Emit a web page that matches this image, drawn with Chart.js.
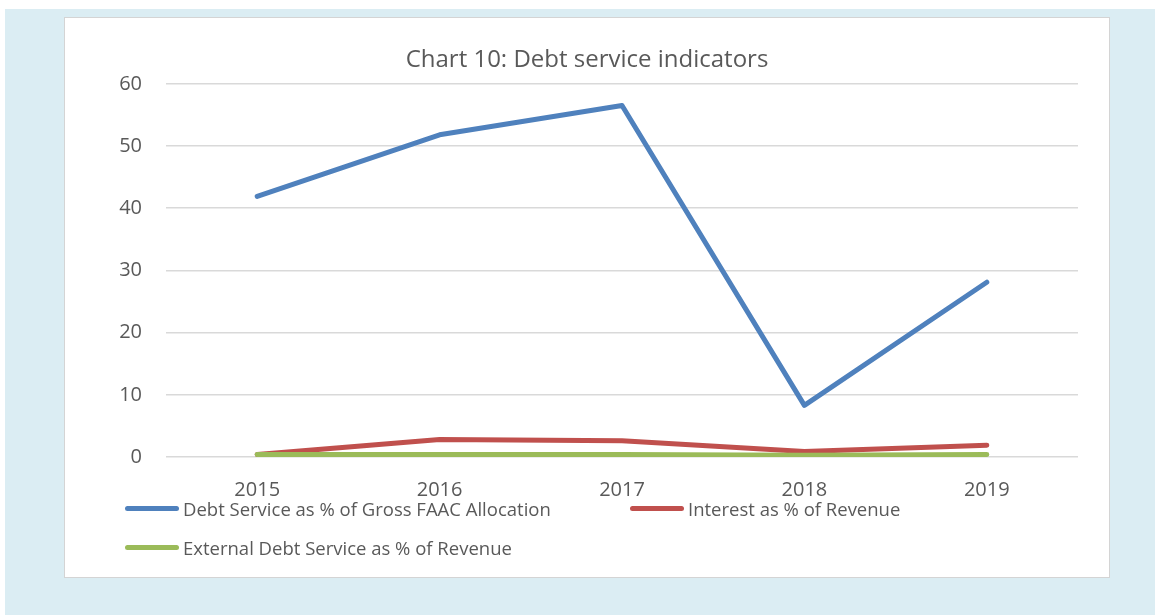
<!DOCTYPE html>
<html><head><meta charset="utf-8">
<script src="https://cdn.jsdelivr.net/npm/chart.js@4.4.1/dist/chart.umd.min.js"></script>
<style>
html,body{margin:0;padding:0;background:#fff;width:1155px;height:615px;overflow:hidden;font-family:"Open Sans","Liberation Sans",sans-serif;}
#bg{position:absolute;left:5px;top:9px;width:1150px;height:606px;background:#dbedf3;}
#panel{position:absolute;left:64px;top:17px;width:1044px;height:559px;background:#fff;border:1px solid #d4d4d4;}
#wrap{position:absolute;left:0;top:0;width:1044px;height:559px;}
#legend{position:absolute;left:0;top:0;width:1044px;height:559px;pointer-events:none;}
.li{position:absolute;display:flex;align-items:center;font-size:18.5px;color:#595959;white-space:nowrap;}
.sw{width:54px;height:5px;border-radius:3px;margin-right:4px;}
</style></head>
<body>
<div id="bg"></div>
<div id="panel"><div id="wrap"><canvas id="c"></canvas></div><div id="legend"></div></div>
<script>
const categories = ['2015','2016','2017','2018','2019'];
const debtServiceFAAC = [41.9, 51.8, 56.5, 8.3, 28.1];
const interestRevenue = [0.4, 2.8, 2.6, 0.9, 1.9];
const externalDebtRevenue = [0.4, 0.4, 0.4, 0.3, 0.4];
const seriesNames = ['Debt Service as % of Gross FAAC Allocation','Interest as % of Revenue','External Debt Service as % of Revenue'];
const seriesColors = ['#4f81bd','#c0504d','#9bbb59'];
const yTicks = [0,10,20,30,40,50,60];

const values = [debtServiceFAAC, interestRevenue, externalDebtRevenue];
const datasets = values.map((v,i)=>({
  label: seriesNames[i], data: v, borderColor: seriesColors[i], backgroundColor: seriesColors[i],
  borderWidth: 5, pointRadius: 0, tension: 0, borderCapStyle: 'round', borderJoinStyle: 'round', fill:false, yAxisID: 'y'
}));
datasets[0].order = 3; datasets[1].order = 2; datasets[2].order = 1;

const FF = '"Open Sans","Liberation Sans",sans-serif';
new Chart(document.getElementById('c'), {
  type: 'line',
  data: { labels: categories, datasets },
  options: {
    responsive: true, maintainAspectRatio: false, animation: false,
    layout: { padding: { left: 0, right: 0, top: 0, bottom: 54 } },
    plugins: {
      legend: { display: false },
      tooltip: { enabled: false },
      title: { display: true, text: 'Chart 10: Debt service indicators', color: '#595959',
        font: { family: FF, size: 24, weight: 'normal' },
        padding: { top: 27.5, bottom: 9.5 } }
    },
    scales: {
      x: { offset: true, grid: { display: false, drawTicks: false }, border: { display: false },
        ticks: { color: '#595959', padding: 21, font: { family: FF, size: 20 } } },
      y: { min: 0, max: 60, afterFit: s => { s.width = 101; },
        afterBuildTicks: s => { s.ticks = yTicks.map(v=>({value:v})); },
        grid: { color: '#d9d9d9', lineWidth: 1.5, drawTicks: false }, border: { display: false },
        ticks: { color: '#595959', padding: 24, font: { family: FF, size: 20 } } },
      yRight: { position: 'right', display: true, min: 0, max: 60, afterFit: s => { s.width = 31; },
        grid: { display: false, drawTicks: false }, border: { display: false }, ticks: { display: false } }
    }
  }
});

const leg = document.getElementById('legend');
const pos = [[60,491],[565,491],[60,530]];
seriesNames.forEach((n,i)=>{
  const d = document.createElement('div'); d.className='li';
  d.style.left = pos[i][0]+'px'; d.style.top = (pos[i][1]-13)+'px';
  d.innerHTML = '<div class="sw" style="background:'+seriesColors[i]+'"></div><span>'+n+'</span>';
  leg.appendChild(d);
});
</script>
</body></html>
